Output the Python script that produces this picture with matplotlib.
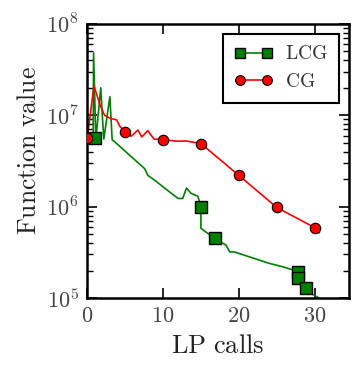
import matplotlib
matplotlib.use("Agg")
import matplotlib.pyplot as plt
from matplotlib.lines import Line2D
from matplotlib.ticker import FixedLocator, FuncFormatter, LogLocator, NullLocator
import numpy as np

plt.rcParams['mathtext.fontset'] = 'cm'
plt.rcParams['font.family'] = 'serif'
plt.rcParams['font.serif'] = ['cmr10', 'DejaVu Serif']
plt.rcParams['axes.formatter.use_mathtext'] = True

# CG trace (red)
cg_line_x = [0, 0.9, 1.7, 2.3, 3.0, 3.9, 4.3, 5.0, 5.8, 6.7, 7.2, 8.0, 8.8, 10, 12, 13, 15, 20, 25, 30, 30.6]
cg_line_y = [5.5e6, 2.1e7, 1.3e7, 1.0e7, 9.3e6, 8.9e6, 7.6e6, 6.6e6, 5.9e6, 6.9e6, 5.8e6, 6.8e6, 5.5e6, 5.4e6, 5.2e6, 5.25e6, 4.9e6, 2.2e6, 9.8e5, 5.9e5, 5.2e5]
cg_mark_x = [0, 5, 10, 15, 20, 25, 30]
cg_mark_y = [5.6e6, 6.6e6, 5.4e6, 4.9e6, 2.2e6, 1.0e6, 5.9e5]

# LCG trace (green)
lcg_line_x = [0.8, 0.85, 1.15, 1.8, 2.0, 2.2, 3.0, 3.3, 3.9, 7.6, 8.0, 8.9, 11.1, 12.0, 12.6, 13.1, 13.7, 14.6, 15.0, 15.0, 16.8, 18.3, 18.8, 19.4, 24.0, 25.8, 27.8, 27.8, 28.8, 29.7, 30.6]
lcg_line_y = [5.6e6, 4.8e7, 5.5e6, 2.0e7, 1.0e7, 5.5e6, 1.6e7, 5.4e6, 4.9e6, 2.6e6, 2.2e6, 1.95e6, 1.4e6, 1.23e6, 1.23e6, 1.6e6, 1.4e6, 1.3e6, 1.0e6, 5.8e5, 4.5e5, 3.8e5, 3.2e5, 3.2e5, 2.4e5, 2.2e5, 1.95e5, 1.65e5, 1.3e5, 1.1e5, 1.0e5]
lcg_mark_x = [1.1, 15, 16.8, 27.8, 27.8, 28.8]
lcg_mark_y = [5.6e6, 1.0e6, 4.5e5, 1.95e5, 1.65e5, 1.3e5]

green = (0, 0.5, 0)
red = (1, 0, 0)

fig = plt.figure(figsize=(3.63, 3.74), dpi=100)
ax = fig.add_axes([0.240, 0.203, 0.721, 0.733])

ax.plot(lcg_line_x, lcg_line_y, color=green, lw=1.2, zorder=2)
ax.plot(cg_line_x, cg_line_y, color=red, lw=1.2, zorder=2)
ax.plot(lcg_mark_x, lcg_mark_y, ls='none', marker='s', ms=8, mfc=green, mec='k', mew=1.0, zorder=3)
ax.plot(cg_mark_x, cg_mark_y, ls='none', marker='o', ms=7.5, mfc=red, mec='k', mew=0.8, zorder=3)

ax.set_yscale('log')
ax.set_xlim(0, 34.5)
ax.set_ylim(1e5, 1e8)

ax.xaxis.set_major_locator(FixedLocator([0, 10, 20, 30]))
ax.xaxis.set_minor_locator(NullLocator())
ax.xaxis.set_major_formatter(FuncFormatter(lambda v, p: r'$%d$' % v))
ax.yaxis.set_major_locator(LogLocator(base=10, numticks=10))
ax.yaxis.set_minor_locator(LogLocator(base=10, subs=np.arange(2, 10), numticks=20))
ax.yaxis.set_major_formatter(FuncFormatter(lambda v, p: r'$10^{%d}$' % int(round(np.log10(v)))))

ax.tick_params(which='both', direction='in', top=True, right=True, labelsize=16, colors='k')
ax.tick_params(which='major', length=7, width=1.2, pad=6)
ax.tick_params(which='minor', length=4, width=1.0)
for t in ax.get_xticklabels() + ax.get_yticklabels():
    t.set_color('#444444')
for s in ax.spines.values():
    s.set_linewidth(1.8)

ax.set_xlabel(r'$\mathrm{LP\ calls}$', fontsize=19, labelpad=6, color='#222222')
ax.set_ylabel(r'$\mathrm{Function\ value}$', fontsize=18.5, color='#222222')
ax.yaxis.set_label_coords(-0.175, 0.54)

handles = [
    Line2D([], [], color=green, lw=1.2, marker='s', ms=7, mfc=green, mec='k', mew=1.0),
    Line2D([], [], color=red, lw=1.2, marker='o', ms=7, mfc=red, mec='k', mew=0.8),
]
leg = ax.legend(handles, [r'$\mathrm{LCG}$', r'$\mathrm{CG}$'], loc='upper right',
                numpoints=2, fontsize=14, fancybox=False, framealpha=1,
                edgecolor='k', handlelength=2.0, handletextpad=0.6,
                borderaxespad=0.5, borderpad=0.6)
leg.get_frame().set_linewidth(1.5)
for t in leg.get_texts():
    t.set_color('#333333')

fig.savefig('out.png', dpi=100)
